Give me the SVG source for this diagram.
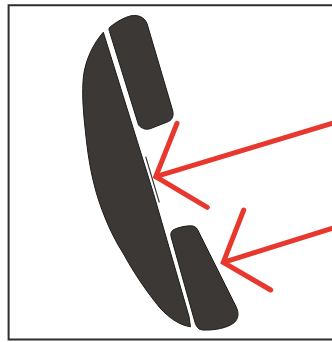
<svg xmlns="http://www.w3.org/2000/svg" width="332" height="342" viewBox="0 0 332 342">
<style>
.part{fill:#3a3835;stroke:#1c1b1a;stroke-width:1;stroke-linejoin:round}
.arrow{fill:none;stroke:#e8372f;stroke-width:5;stroke-linecap:round;stroke-linejoin:miter}
.frame{fill:none;stroke:#2e2e2e;stroke-width:2}
</style>
<defs><filter id="soft" x="-5%" y="-5%" width="110%" height="110%"><feGaussianBlur stdDeviation="0.4"/></filter></defs>
<rect width="332" height="342" fill="#fff"/>
<g filter="url(#soft)">
<path id="frame" class="frame" d="M333 5.200H8.600V339.400H333"/>
<g id="earpiece"><path class="part" d="M109.500 27.500C116 22 124 17.500 131 15.800C138 14.800 144 16.500 147 23.500L172.500 110C174 116 172.500 119.500 168.500 121.500L150 128.800C145.500 130 141.500 128.500 138.500 125L109.500 31.500C108.800 30 108.800 28.500 109.500 27.500Z"/></g>
<g id="handle"><path class="part" d="M103.300 32.200C93 44 85.500 60 83.500 76C81.800 92 83 110 85.500 132C87.500 152 90 168 94 184C99 205 110 233 123 253C135 275 147 292 160 308C170 319 180 325 190.500 326.800L189 316.500L153.500 193.500L103.300 32.200Z"/></g>
<g id="mouthpiece"><path class="part" d="M171 236.500C170.300 232.500 172 230 175.500 228.800C180 227 186 225.800 190.500 225.800C194 225.800 196 227 197.500 229.500L236.500 307.500C239 313 238.500 319 234 322.800C227 328 215 330.500 203 330C198.500 329.800 196.500 327 195 322.500L171 236.500Z"/></g>
<g id="connectors">
<path d="M145.700 156.700L159.300 202.300" fill="none" stroke="#333" stroke-width="1.200"/>
<path class="arrow" d="M332 123.300L155.700 176.700M177 123.300L155.700 176.700L207.300 207.300"/>
<path class="arrow" d="M332 228.300L223.300 262.300M243.700 210L223.300 262.300L270.700 290"/>
</g>
</g>
</svg>
